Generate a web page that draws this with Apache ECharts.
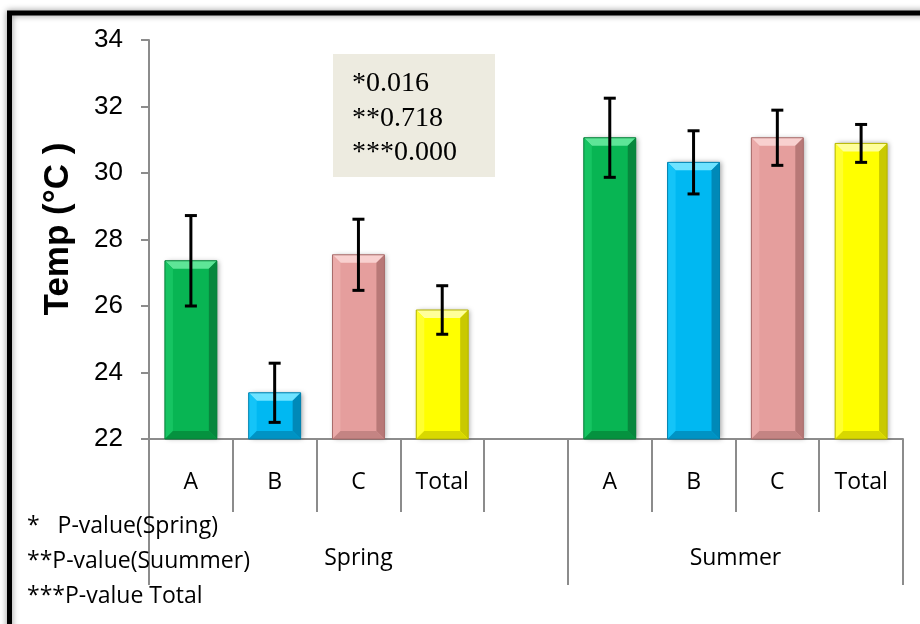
<!DOCTYPE html>
<html>
<head>
<meta charset="utf-8">
<script src="https://cdn.jsdelivr.net/npm/echarts@6/dist/echarts.min.js"></script>
<style>
  html, body { margin: 0; padding: 0; background: #fff; }
  #chart { width: 920px; height: 624px; }
</style>
</head>
<body>
<div id="chart"></div>
<script>
// Category slots along the x axis (one empty slot separates the seasons)
const categories = ['A', 'B', 'C', 'Total', '', 'A', 'B', 'C', 'Total'];
const seasons = ['Spring', 'Summer'];
const seasonCenters = [2.5, 7];
const seasonBounds = [0, 5, 9];

// Mean temperature and standard deviation per site
const springSlots = [0, 1, 2, 3];
const springMeans = [27.36, 23.39, 27.54, 25.88];
const springSD = [1.36, 0.89, 1.07, 0.73];

const summerSlots = [5, 6, 7, 8];
const summerMeans = [31.06, 30.32, 31.06, 30.89];
const summerSD = [1.19, 0.95, 0.83, 0.57];

const yTicks = [22, 24, 26, 28, 30, 32, 34];
const yTitle = 'Temp (°C )';

const pValueLines = ['*0.016', '**0.718', '***0.000'];
const footnotes = ['*   P-value(Spring)', '**P-value(Suummer)', '***P-value Total'];

// Bevel palette per site: face, top, left, right, bottom, outline
const palettes = [
  { face: '#08B553', top: '#5EE597', left: '#16C462', right: '#07873D', bottom: '#05923F', line: '#067F39' },
  { face: '#00B8F2', top: '#6FE3FF', left: '#14C4F8', right: '#0089B8', bottom: '#0093C4', line: '#0080AD' },
  { face: '#E59E9D', top: '#F8D0CF', left: '#EBAAA9', right: '#B87877', bottom: '#C48483', line: '#A66A69' },
  { face: '#FFFF00', top: '#FFFF9A', left: '#FFFF30', right: '#C9C900', bottom: '#D8D800', line: '#B5B500' }
];

const barData = [];
springSlots.forEach((s, i) => barData.push([s, springMeans[i], i]));
summerSlots.forEach((s, i) => barData.push([s, summerMeans[i], i]));

const errData = [];
springSlots.forEach((s, i) => errData.push([s, springMeans[i] - springSD[i], springMeans[i] + springSD[i]]));
summerSlots.forEach((s, i) => errData.push([s, summerMeans[i] - summerSD[i], summerMeans[i] + summerSD[i]]));

function renderBar(params, api) {
  const slot = api.value(0);
  const val = api.value(1);
  const pal = palettes[api.value(2)];
  const top = api.coord([slot, val]);
  const base = api.coord([slot, yTicks[0]]);
  const w = api.size([1, 0])[0] * 0.62;
  const x0 = top[0] - w / 2, x1 = top[0] + w / 2;
  const y0 = top[1], y1 = base[1];
  const b = Math.min(8, (y1 - y0) / 2);
  return {
    type: 'group',
    children: [
      { type: 'rect', shape: { x: x0, y: y0, width: w, height: y1 - y0 },
        style: { fill: pal.face, shadowBlur: 5, shadowOffsetX: 2, shadowOffsetY: 0, shadowColor: 'rgba(0,0,0,0.35)' } },
      { type: 'polygon', shape: { points: [[x0, y0], [x1, y0], [x1 - b, y0 + b], [x0 + b, y0 + b]] },
        style: { fill: pal.top } },
      { type: 'polygon', shape: { points: [[x0, y0], [x0 + b, y0 + b], [x0 + b, y1 - b], [x0, y1]] },
        style: { fill: pal.left } },
      { type: 'polygon', shape: { points: [[x1, y0], [x1 - b, y0 + b], [x1 - b, y1 - b], [x1, y1]] },
        style: { fill: pal.right } },
      { type: 'polygon', shape: { points: [[x0, y1], [x0 + b, y1 - b], [x1 - b, y1 - b], [x1, y1]] },
        style: { fill: pal.bottom } },
      { type: 'rect', shape: { x: x0, y: y0, width: w, height: y1 - y0 },
        style: { fill: null, stroke: pal.line, lineWidth: 1 } }
    ]
  };
}

function renderErr(params, api) {
  const slot = api.value(0);
  const lo = api.coord([slot, api.value(1)]);
  const hi = api.coord([slot, api.value(2)]);
  const c = 6;
  const st = { stroke: '#000', lineWidth: 3 };
  return {
    type: 'group',
    children: [
      { type: 'line', shape: { x1: hi[0], y1: hi[1], x2: lo[0], y2: lo[1] }, style: st },
      { type: 'line', shape: { x1: hi[0] - c, y1: hi[1], x2: hi[0] + c, y2: hi[1] }, style: st },
      { type: 'line', shape: { x1: lo[0] - c, y1: lo[1], x2: lo[0] + c, y2: lo[1] }, style: st }
    ]
  };
}

const sans = '"Open Sans", Lato, sans-serif';
const arial = '"Liberation Sans", Arial, sans-serif';
const chart = echarts.init(document.getElementById('chart'), null, { renderer: 'canvas' });

chart.setOption({
  animation: false,
  backgroundColor: '#fff',
  grid: { left: 149, right: 17, top: 40, bottom: 185 },
  xAxis: [
    {
      type: 'category',
      data: categories,
      boundaryGap: true,
      position: 'bottom',
      axisLine: { show: true, lineStyle: { color: '#8C8C8C', width: 2 } },
      axisTick: { show: true, interval: 0, length: 73, lineStyle: { color: '#8C8C8C', width: 2 } },
      axisLabel: { interval: 0, margin: 32, fontFamily: sans, fontSize: 23, color: '#000' }
    },
    {
      type: 'value',
      min: 0,
      max: 9,
      position: 'bottom',
      axisLine: { show: false },
      splitLine: { show: false },
      axisTick: { show: true, customValues: seasonBounds, length: 146, lineStyle: { color: '#8C8C8C', width: 2 } },
      axisLabel: {
        customValues: seasonCenters,
        margin: 108,
        fontFamily: sans,
        fontSize: 23,
        color: '#000',
        formatter: v => seasons[seasonCenters.indexOf(v)]
      }
    }
  ],
  yAxis: {
    type: 'value',
    min: yTicks[0],
    max: yTicks[yTicks.length - 1],
    interval: 2,
    axisLine: { show: true, lineStyle: { color: '#8C8C8C', width: 2 } },
    axisTick: { show: true, length: 8, lineStyle: { color: '#8C8C8C', width: 2 } },
    splitLine: { show: false },
    axisLabel: { margin: 26, fontFamily: arial, fontSize: 26, color: '#000' }
  },
  series: [
    { type: 'custom', xAxisIndex: 0, renderItem: renderBar, data: barData, z: 2 },
    { type: 'custom', xAxisIndex: 0, renderItem: renderErr, data: errData, z: 3 }
  ],
  graphic: [
    // outer frame
    { type: 'rect', shape: { x: 9.5, y: 13, width: 960, height: 660 },
      style: { fill: null, stroke: '#000', lineWidth: 5, shadowBlur: 6, shadowColor: 'rgba(0,0,0,0.45)' }, z: 10 },
    // y axis title
    { type: 'text', x: 58, y: 229, rotation: Math.PI / 2, z: 6,
      style: { text: yTitle, fontFamily: arial, fontWeight: 'bold', fontSize: 35, fill: '#000', align: 'center', verticalAlign: 'middle' } },
    // p-value box
    { type: 'rect', shape: { x: 333, y: 54, width: 162, height: 123 }, style: { fill: '#EDEBE0' }, z: 5 },
    ...pValueLines.map((t, i) => ({
      type: 'text', x: 352, y: 84 + i * 34.5, z: 6,
      style: { text: t, fontFamily: '"Liberation Serif", "DejaVu Serif", serif', fontSize: 28, fill: '#000', verticalAlign: 'middle' }
    })),
    ...footnotes.map((t, i) => ({
      type: 'text', x: 27, y: 526 + i * 35, z: 6,
      style: { text: t, fontFamily: sans, fontSize: 23, fill: '#000', verticalAlign: 'middle' }
    }))
  ]
});
</script>
</body>
</html>
